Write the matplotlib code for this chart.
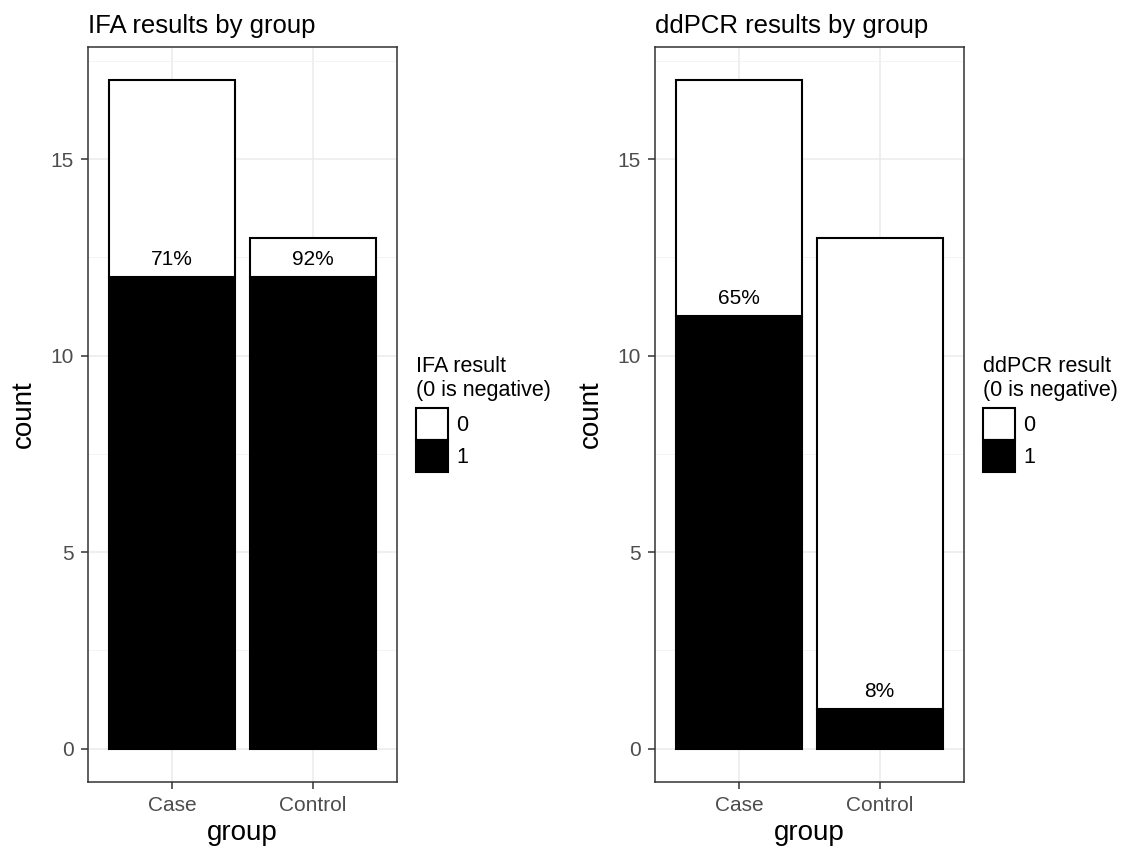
import numpy as np
import matplotlib
matplotlib.use("Agg")
import matplotlib.pyplot as plt
from matplotlib.patches import Patch

plt.rcParams["font.family"] = ["Liberation Sans", "DejaVu Sans"]

groups = ["Case", "Control"]
totals = [17, 13]
ifa_pos = [12, 12]
ddpcr_pos = [11, 1]

panels = [
    ("IFA results by group", "IFA result\n(0 is negative)", ifa_pos),
    ("ddPCR results by group", "ddPCR result\n(0 is negative)", ddpcr_pos),
]

W, H = 1136, 848
fig = plt.figure(figsize=(W / 100, H / 100), dpi=100)

ax_boxes = [(88, 47, 397, 782), (655, 47, 964, 782)]
legend_xy = [(407, 347), (974, 347)]
spine_col = "#333333"
tick_col = "#4D4D4D"


def px_rect(x0, y0, x1, y1):
    return [x0 / W, 1 - y1 / H, (x1 - x0) / W, (y1 - y0) / H]


for (title, leg_title, pos), box, lxy in zip(panels, ax_boxes, legend_xy):
    ax = fig.add_axes(px_rect(*box))
    x = np.arange(1, len(groups) + 1)
    neg = np.array(totals) - np.array(pos)

    ax.bar(x, pos, width=0.9, color="black", edgecolor="black", linewidth=1.5, zorder=3)
    ax.bar(x, neg, bottom=pos, width=0.9, color="white", edgecolor="black", linewidth=1.5, zorder=3)

    for xi, p, t in zip(x, pos, totals):
        ax.text(xi, p + 0.2, f"{round(100 * p / t)}%", ha="center", va="bottom",
                fontsize=15, color="black", zorder=4)

    ax.set_xlim(0.4, 2.6)
    ax.set_ylim(-0.85, 17.85)
    ax.set_xticks(x)
    ax.set_xticklabels(groups)
    ax.set_yticks([0, 5, 10, 15])
    ax.set_yticks([2.5, 7.5, 12.5, 17.5], minor=True)
    ax.set_xticks([], minor=True)
    ax.grid(True, which="major", color="#EBEBEB", linewidth=1.1, zorder=0)
    ax.grid(True, which="minor", axis="y", color="#F2F2F2", linewidth=0.6, zorder=0)
    ax.tick_params(which="major", length=5, width=1.1, color=spine_col,
                   labelsize=15, labelcolor=tick_col, pad=5)
    ax.tick_params(which="minor", length=0)
    for s in ax.spines.values():
        s.set_color(spine_col)
        s.set_linewidth(1.1)

    ax.set_title(title, loc="left", fontsize=18.5, pad=10)
    ax.set_xlabel("group", fontsize=20, labelpad=4)
    ax.set_ylabel("count", fontsize=20, labelpad=10)

    handles = [Patch(facecolor="white", edgecolor="black", linewidth=1.5, label="0"),
               Patch(facecolor="black", edgecolor="black", linewidth=1.5, label="1")]
    leg = fig.legend(handles=handles, title=leg_title, loc="upper left",
                     bbox_to_anchor=(lxy[0] / W, 1 - lxy[1] / H),
                     frameon=False, fontsize=15.5, title_fontsize=15.5,
                     handlelength=1.5, handleheight=1.91, labelspacing=0.0,
                     handletextpad=0.4, borderaxespad=0)
    leg._legend_box.align = "left"
    leg._legend_box.sep = 5

fig.savefig("out.png", dpi=100)
